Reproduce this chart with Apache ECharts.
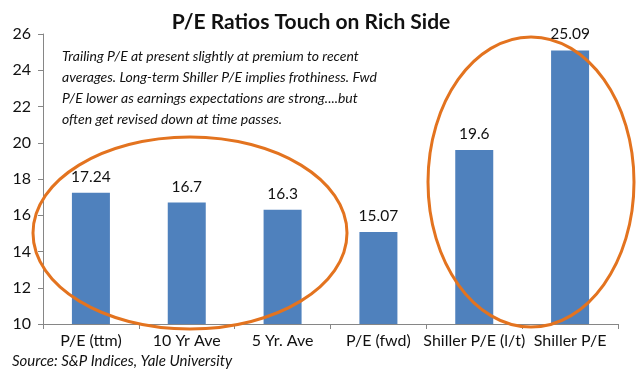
<!DOCTYPE html>
<html>
<head>
<meta charset="utf-8">
<script src="https://cdn.jsdelivr.net/npm/echarts@6/dist/echarts.min.js"></script>
<style>
html,body{margin:0;padding:0;background:#fff;}
#chart{width:640px;height:379px;}
</style>
</head>
<body>
<div id="chart"></div>
<script>
const categories = ['P/E (ttm)', '10 Yr Ave', '5 Yr. Ave', 'P/E (fwd)', 'Shiller P/E (l/t)', 'Shiller P/E'];
const peValues = [17.24, 16.7, 16.3, 15.07, 19.6, 25.09];
const yMin = 10, yMax = 26, yStep = 2;
const titleText = 'P/E Ratios Touch on Rich Side';
const noteText = 'Trailing P/E at present slightly at premium to recent\naverages. Long-term Shiller P/E implies frothiness. Fwd\nP/E lower as earnings expectations are strong....but\noften get revised down at time passes.';
const sourceText = 'Source: S&P Indices, Yale University';

const FONT = 'Lato, "Open Sans", sans-serif';
const chart = echarts.init(document.getElementById('chart'), null, {renderer: 'canvas'});
const orange = '#E3731F';
chart.setOption({
  animation: false,
  backgroundColor: '#fff',
  title: {
    text: titleText, left: 306, top: 7, textAlign: 'center',
    textStyle: {fontFamily: FONT, fontSize: 21, fontWeight: 'bold', color: '#111'}
  },
  grid: {left: 43, right: 22, top: 34, bottom: 55},
  xAxis: {
    type: 'category', data: categories,
    axisLine: {lineStyle: {color: '#868686', width: 1}},
    axisTick: {show: true, length: 5, alignWithLabel: false, lineStyle: {color: '#868686'}},
    axisLabel: {fontFamily: FONT, fontSize: 16, color: '#111', margin: 9, interval: 0}
  },
  yAxis: {
    type: 'value', min: yMin, max: yMax, interval: yStep,
    axisLine: {show: true, lineStyle: {color: '#868686', width: 1}},
    axisTick: {show: true, length: 5, lineStyle: {color: '#868686'}},
    splitLine: {show: false},
    axisLabel: {fontFamily: FONT, fontSize: 16, color: '#111', margin: 12}
  },
  series: [{
    type: 'bar', data: peValues, barWidth: 38,
    itemStyle: {color: '#4F81BD'},
    label: {show: true, position: 'top', distance: 8, fontFamily: FONT, fontSize: 15.5, color: '#111'}
  }],
  graphic: [
    {type: 'text', left: 62, top: 46, style: {text: noteText, fontFamily: FONT, fontStyle: 'italic', fontSize: 14, lineHeight: 21, fill: '#111'}},
    {type: 'text', left: 12, top: 354, style: {text: sourceText, fontFamily: FONT, fontStyle: 'italic', fontSize: 15, fill: '#111'}},
    {type: 'ellipse', shape: {cx: 190, cy: 233, rx: 157, ry: 96}, style: {fill: 'none', stroke: orange, lineWidth: 3}, z: 100},
    {type: 'ellipse', shape: {cx: 531, cy: 182, rx: 103, ry: 145}, style: {fill: 'none', stroke: orange, lineWidth: 3}, z: 100}
  ]
});
</script>
</body>
</html>
